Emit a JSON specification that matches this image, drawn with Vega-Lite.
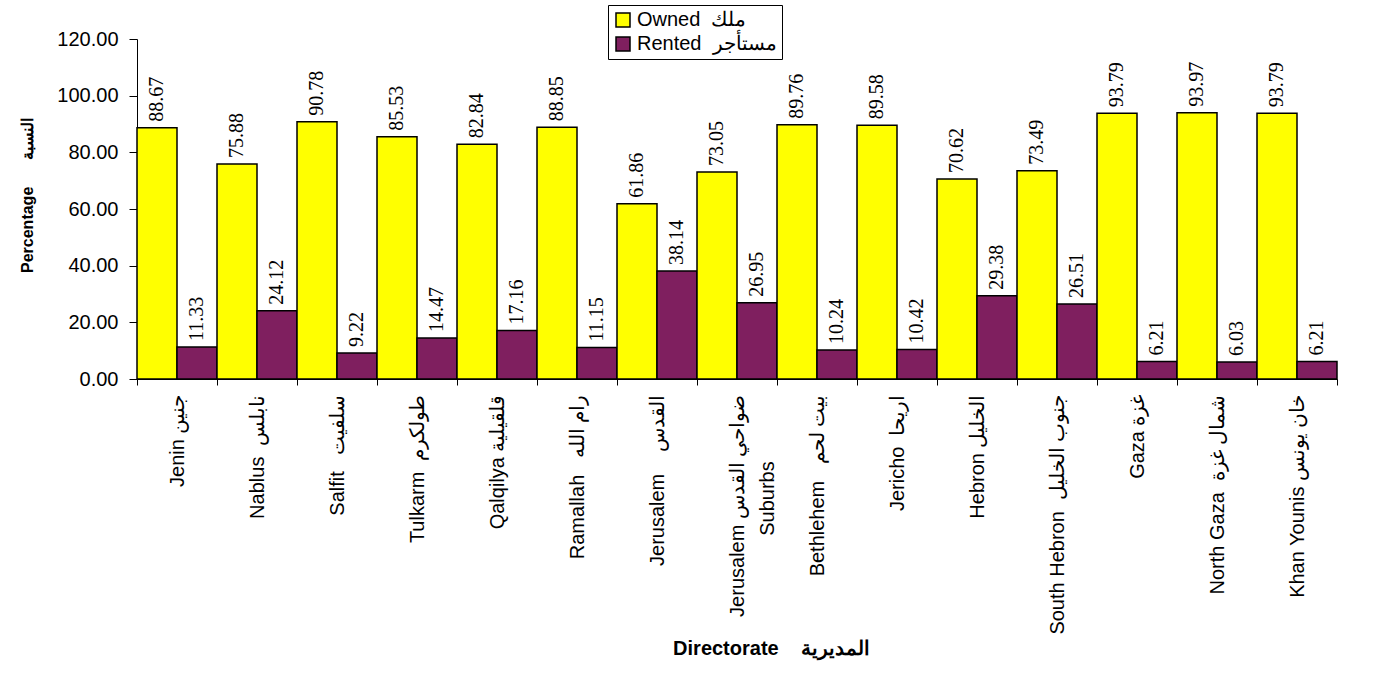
{
  "$schema": "https://vega.github.io/schema/vega-lite/v6.json",
  "autosize": "none",
  "padding": {"left": 137, "top": 39, "right": 46, "bottom": 298},
  "width": 1200,
  "height": 340,
  "background": "white",
  "config": {
    "view": {"stroke": null},
    "font": "Liberation Sans"
  },
  "data": {
    "values": [
      {"d": "Jenin جنين", "t": "Owned\u00a0 ملك", "v": 88.67},
      {"d": "Jenin جنين", "t": "Rented\u00a0 مستأجر", "v": 11.33},
      {"d": "Nablus\u00a0 نابلس", "t": "Owned\u00a0 ملك", "v": 75.88},
      {"d": "Nablus\u00a0 نابلس", "t": "Rented\u00a0 مستأجر", "v": 24.12},
      {"d": "Salfit\u00a0\u00a0 سلفيت", "t": "Owned\u00a0 ملك", "v": 90.78},
      {"d": "Salfit\u00a0\u00a0 سلفيت", "t": "Rented\u00a0 مستأجر", "v": 9.22},
      {"d": "Tulkarm\u00a0 طولكرم", "t": "Owned\u00a0 ملك", "v": 85.53},
      {"d": "Tulkarm\u00a0 طولكرم", "t": "Rented\u00a0 مستأجر", "v": 14.47},
      {"d": "Qalqilya قلقيلية", "t": "Owned\u00a0 ملك", "v": 82.84},
      {"d": "Qalqilya قلقيلية", "t": "Rented\u00a0 مستأجر", "v": 17.16},
      {"d": "Ramallah\u00a0\u00a0 رام الله", "t": "Owned\u00a0 ملك", "v": 88.85},
      {"d": "Ramallah\u00a0\u00a0 رام الله", "t": "Rented\u00a0 مستأجر", "v": 11.15},
      {"d": "Jerusalem\u00a0\u00a0\u00a0 القدس", "t": "Owned\u00a0 ملك", "v": 61.86},
      {"d": "Jerusalem\u00a0\u00a0\u00a0 القدس", "t": "Rented\u00a0 مستأجر", "v": 38.14},
      {"d": "Jerusalem ضواحي القدس|Suburbs\u2007\u2007\u2007\u2007\u2007\u2007\u2060", "t": "Owned\u00a0 ملك", "v": 73.05},
      {"d": "Jerusalem ضواحي القدس|Suburbs\u2007\u2007\u2007\u2007\u2007\u2007\u2060", "t": "Rented\u00a0 مستأجر", "v": 26.95},
      {"d": "Bethlehem\u00a0\u00a0 بيت لحم", "t": "Owned\u00a0 ملك", "v": 89.76},
      {"d": "Bethlehem\u00a0\u00a0 بيت لحم", "t": "Rented\u00a0 مستأجر", "v": 10.24},
      {"d": "Jericho\u00a0 اريحا", "t": "Owned\u00a0 ملك", "v": 89.58},
      {"d": "Jericho\u00a0 اريحا", "t": "Rented\u00a0 مستأجر", "v": 10.42},
      {"d": "Hebron الخليل", "t": "Owned\u00a0 ملك", "v": 70.62},
      {"d": "Hebron الخليل", "t": "Rented\u00a0 مستأجر", "v": 29.38},
      {"d": "South Hebron\u00a0 جنوب الخليل", "t": "Owned\u00a0 ملك", "v": 73.49},
      {"d": "South Hebron\u00a0 جنوب الخليل", "t": "Rented\u00a0 مستأجر", "v": 26.51},
      {"d": "Gaza غزة", "t": "Owned\u00a0 ملك", "v": 93.79},
      {"d": "Gaza غزة", "t": "Rented\u00a0 مستأجر", "v": 6.21},
      {"d": "North Gaza\u00a0 شمال غزة", "t": "Owned\u00a0 ملك", "v": 93.97},
      {"d": "North Gaza\u00a0 شمال غزة", "t": "Rented\u00a0 مستأجر", "v": 6.03},
      {"d": "Khan Younis خان يونس", "t": "Owned\u00a0 ملك", "v": 93.79},
      {"d": "Khan Younis خان يونس", "t": "Rented\u00a0 مستأجر", "v": 6.21}
    ]
  },
  "encoding": {
    "x": {
      "field": "d",
      "type": "nominal",
      "sort": null,
      "scale": {"paddingInner": 0, "paddingOuter": 0},
      "axis": {
        "title": "Directorate\u00a0\u00a0\u00a0 المديرية",
        "titleFont": "Liberation Sans",
        "titleFontSize": 20,
        "titleFontWeight": "bold",
        "titleColor": "black",
        "titleX": 634,
        "titleY": 269,
        "titleBaseline": "middle",
        "labelAngle": -90,
        "labelAlign": "right",
        "labelBaseline": "middle",
        "labelFontSize": 20,
        "labelFont": "Liberation Sans",
        "labelColor": "black",
        "labelPadding": 9,
        "labelLineHeight": 30,
        "labelExpr": "split(datum.label, '|')",
        "labelLimit": 0,
        "tickBand": "extent",
        "tickColor": "black",
        "tickSize": 6,
        "domainColor": "black"
      }
    },
    "xOffset": {"field": "t", "type": "nominal", "sort": null},
    "y": {
      "field": "v",
      "type": "quantitative",
      "scale": {"domain": [0, 120], "nice": false},
      "axis": {
        "title": "Percentage\u00a0\u00a0\u00a0\u00a0\u00a0 النسبة",
        "titleFont": "Liberation Sans",
        "titleFontSize": 16,
        "titleFontWeight": "bold",
        "titleColor": "black",
        "titleX": -110,
        "titleY": 156,
        "titleBaseline": "middle",
        "titleAngle": -90,
        "values": [0, 20, 40, 60, 80, 100, 120],
        "format": ".2f",
        "labelFontSize": 20,
        "labelFont": "Liberation Sans",
        "labelColor": "black",
        "labelPadding": 11,
        "grid": false,
        "tickColor": "black",
        "tickSize": 8,
        "domainColor": "black"
      }
    }
  },
  "layer": [
    {
      "mark": {"type": "bar", "stroke": "black", "strokeWidth": 1.5},
      "encoding": {
        "color": {
          "field": "t",
          "type": "nominal",
          "sort": null,
          "scale": {"range": ["#FFFF00", "#7F1F5F"]},
          "legend": {
            "title": null,
            "orient": "none",
            "legendX": 471,
            "legendY": -34,
            "direction": "vertical",
            "symbolType": "square",
            "symbolSize": 196,
            "symbolStrokeColor": "black",
            "symbolStrokeWidth": 1.5,
            "labelFontSize": 20,
            "labelFont": "Liberation Sans",
            "labelColor": "black",
            "labelLimit": 0,
            "rowPadding": 4,
            "padding": 5,
            "strokeColor": "black",
            "fillColor": "white"
          }
        }
      }
    },
    {
      "mark": {
        "type": "text",
        "angle": -90,
        "align": "left",
        "baseline": "middle",
        "dx": 6,
        "font": "Liberation Serif",
        "fontSize": 20,
        "color": "black"
      },
      "encoding": {
        "text": {"field": "v", "type": "quantitative", "format": ".2f"}
      }
    }
  ]
}
